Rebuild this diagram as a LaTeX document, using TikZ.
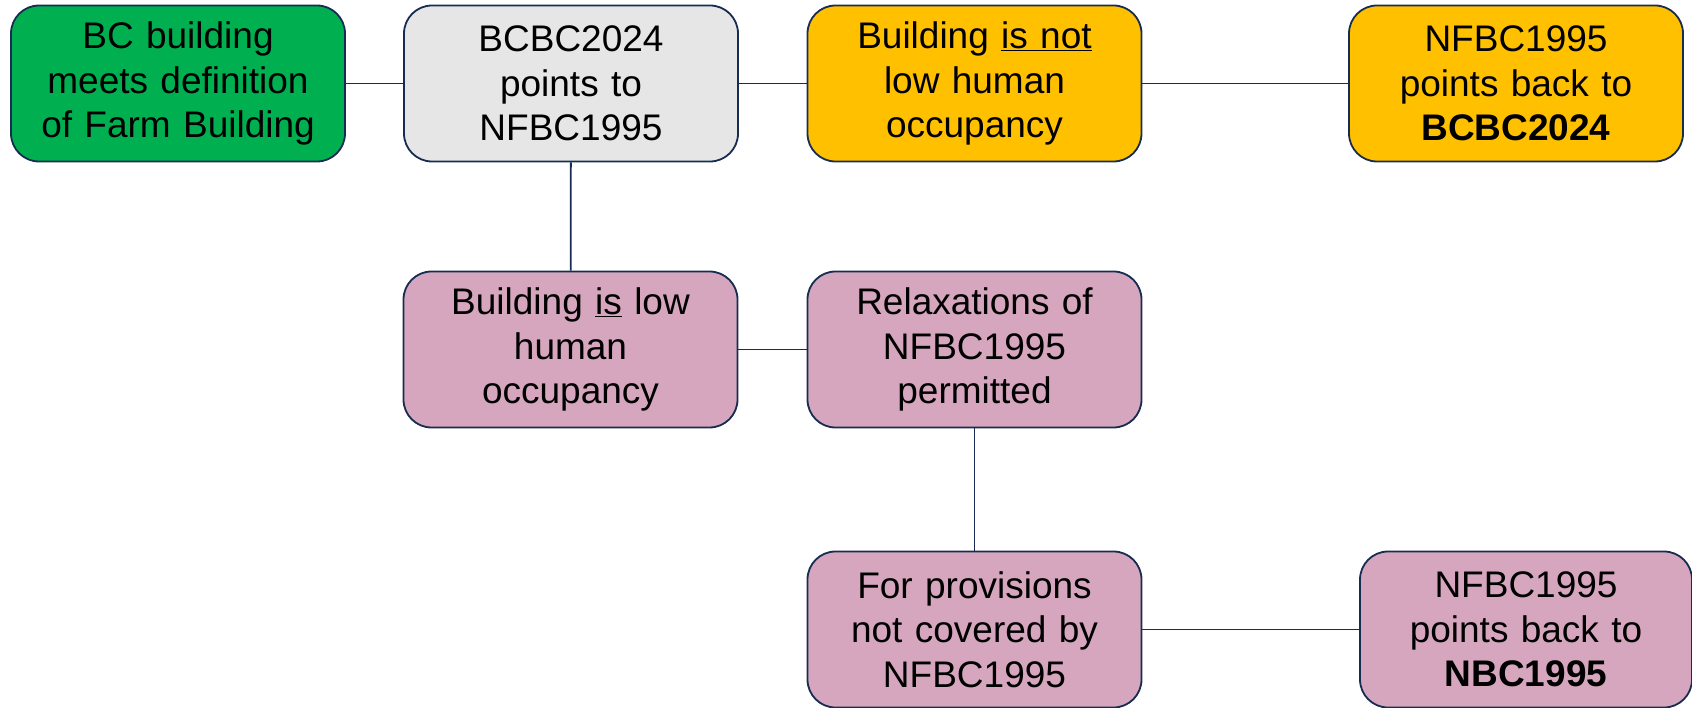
\documentclass[tikz,border=0pt]{standalone}
\usepackage{fontspec}
\setmainfont{Liberation Sans}
\definecolor{farmgreen}{HTML}{00B050}
\definecolor{codegray}{HTML}{E7E6E6}
\definecolor{notlow}{HTML}{FFC000}
\definecolor{lowpink}{HTML}{D5A6BD}
\definecolor{edgeblue}{HTML}{172C51}
\tikzset{
  stepbox/.style={draw=edgeblue, line width=1.8pt, rounded corners=28pt,
    minimum width=334pt, minimum height=156pt, text width=330pt,
    align=center, inner sep=0pt, font=\fontsize{37}{44.5}\selectfont},
  link/.style={draw=edgeblue, line width=1.8pt}
}
\begin{document}
\begin{tikzpicture}[x=1pt,y=-1pt]
        \useasboundingbox (0,0) rectangle (1692,708);
        % top row
        \node[stepbox, fill=farmgreen] (farm) at (178,83.5) {BC building\\meets definition\\of Farm Building};
        \node[stepbox, fill=codegray] (bcbc) at (571,83.5) {BCBC2024\\points to\\NFBC1995};
        \node[stepbox, fill=notlow] (notlow) at (974.5,83.5) {Building \underline{is not}\\low human\\occupancy};
        \node[stepbox, fill=notlow] (backbc) at (1516,83.5) {NFBC1995\\points back to\\\textbf{BCBC2024}};
        % low human occupancy branch
        \node[stepbox, fill=lowpink] (islow) at (570.5,349.5) {Building \underline{is} low\\human\\occupancy};
        \node[stepbox, fill=lowpink] (relax) at (974.5,349.5) {Relaxations of\\NFBC1995\\permitted};
        \node[stepbox, fill=lowpink] (notcov) at (974.5,629.5) {For provisions\\not covered by\\NFBC1995};
        \node[stepbox, fill=lowpink, minimum width=332pt] (backnbc) at (1526,629.5) {NFBC1995\\points back to\\\textbf{NBC1995}};
        % connectors
        \draw[link] (farm) -- (bcbc);
        \draw[link] (bcbc) -- (notlow);
        \draw[link] (notlow) -- (backbc);
        \draw[link] (bcbc) -- (islow);
        \draw[link] (islow) -- (relax);
        \draw[link] (relax) -- (notcov);
        \draw[link] (notcov) -- (backnbc);
\end{tikzpicture}
\end{document}
